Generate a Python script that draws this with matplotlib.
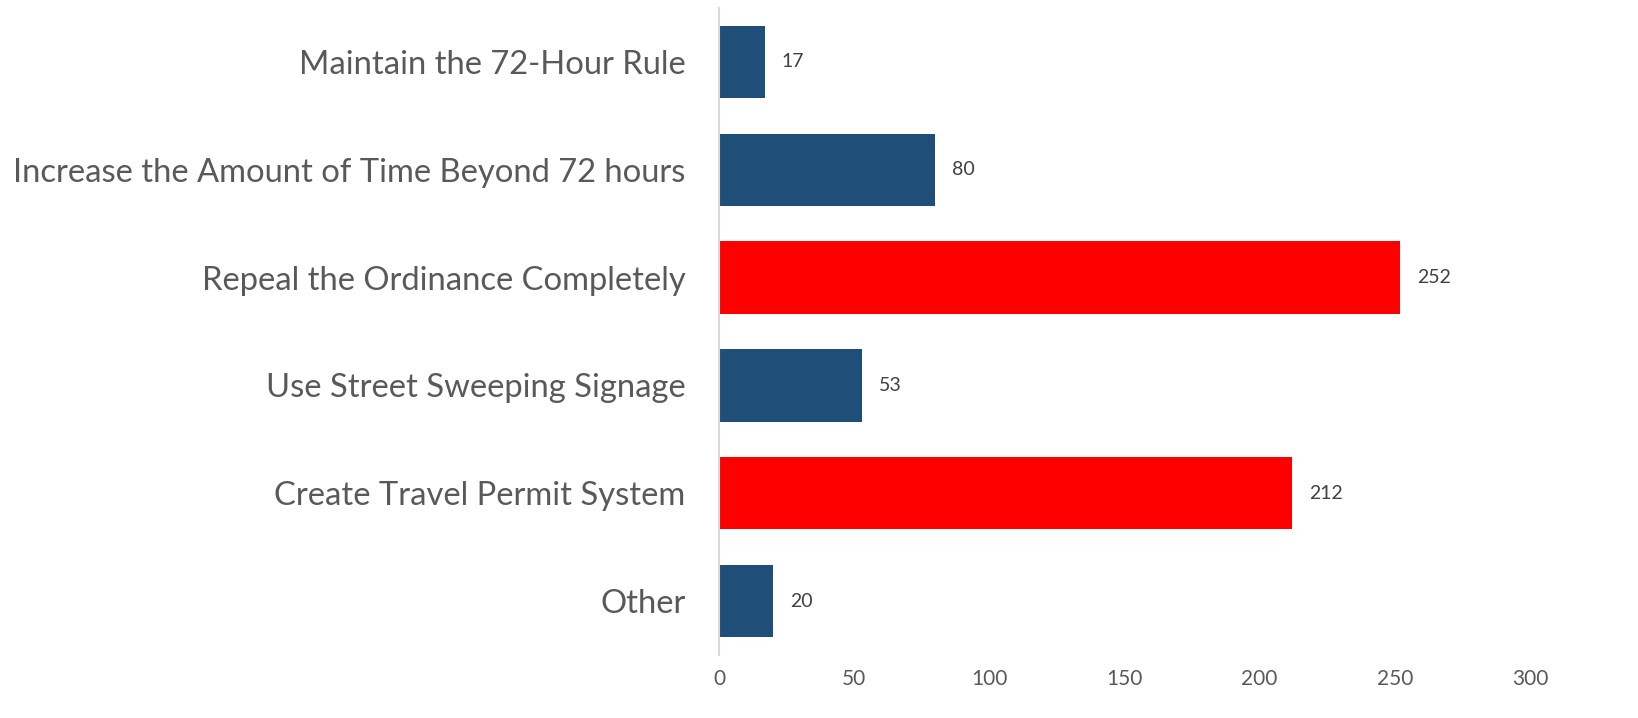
import matplotlib.pyplot as plt

categories = ["Maintain the 72-Hour Rule",
              "Increase the Amount of Time Beyond 72 hours",
              "Repeal the Ordinance Completely",
              "Use Street Sweeping Signage",
              "Create Travel Permit System",
              "Other"]
values = [17, 80, 252, 53, 212, 20]
colors = ["#1F4E79", "#1F4E79", "#FF0000", "#1F4E79", "#FF0000", "#1F4E79"]
xticks = [0, 50, 100, 150, 200, 250, 300]

plt.rcParams['font.family'] = ['Lato', 'DejaVu Sans']

fig = plt.figure(figsize=(16.38, 7.18), dpi=100)
ax = fig.add_axes([719 / 1638, 1 - 655 / 718, (1530 - 719) / 1638, (655 - 8) / 718])

ypos = list(range(len(categories)))
bars = ax.barh(ypos, values, height=0.67, color=colors)
ax.set_ylim(len(categories) - 0.5, -0.5)
ax.set_xlim(0, 300)
ax.set_xticks(xticks)
ax.set_yticks(ypos)
ax.set_yticklabels(categories, fontsize=23.6, color="#595959")
ax.tick_params(axis="y", length=0, pad=24)
ax.tick_params(axis="x", length=0, pad=10, labelsize=15, labelcolor="#595959")

for b, v in zip(bars, values):
    ax.annotate(str(v), (b.get_width(), b.get_y() + b.get_height() / 2),
                xytext=(17, 0), textcoords="offset pixels",
                va="center", ha="left", fontsize=14, color="#404040")

for s in ["top", "right", "bottom"]:
    ax.spines[s].set_visible(False)
ax.spines["left"].set_color("#D9D9D9")
ax.spines["left"].set_linewidth(1.5)

fig.savefig("out.png", dpi=100, facecolor="white")
